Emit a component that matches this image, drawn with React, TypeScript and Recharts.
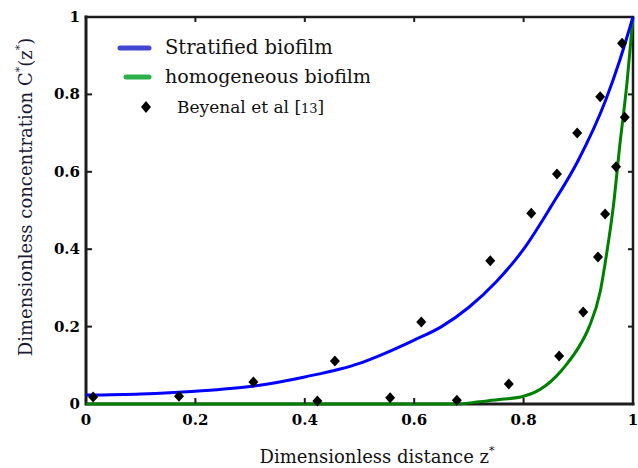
import { ComposedChart, Line, Scatter, XAxis, YAxis } from 'recharts'

// values
const stratifiedZ = [0, 0.1, 0.2, 0.3, 0.4, 0.5, 0.54, 0.6, 0.65, 0.7, 0.75, 0.8, 0.85, 0.9, 0.95, 0.976, 1]
const stratifiedC = [0.023, 0.026, 0.033, 0.045, 0.07, 0.105, 0.127, 0.165, 0.2, 0.25, 0.316, 0.4, 0.51, 0.63, 0.785, 0.889, 1]

const homogeneousZ = [0, 0.68, 0.72, 0.76, 0.8, 0.82, 0.84, 0.86, 0.88, 0.9, 0.92, 0.94, 0.952, 0.964, 0.976, 0.989, 1]
const homogeneousC = [0, 0, 0.006, 0.012, 0.02, 0.03, 0.047, 0.072, 0.105, 0.145, 0.2, 0.29, 0.39, 0.51, 0.67, 0.83, 1]

const beyenalZ = [0.013, 0.17, 0.306, 0.455, 0.613, 0.423, 0.556, 0.678, 0.739, 0.814, 0.861, 0.898, 0.94, 0.98, 0.773, 0.865, 0.909, 0.936, 0.949, 0.969, 0.985]
const beyenalC = [0.018, 0.02, 0.057, 0.111, 0.212, 0.008, 0.016, 0.01, 0.37, 0.493, 0.594, 0.7, 0.794, 0.932, 0.052, 0.124, 0.238, 0.38, 0.491, 0.613, 0.741]

const xTicks = [0, 0.2, 0.4, 0.6, 0.8, 1]
const yTicks = [0, 0.2, 0.4, 0.6, 0.8, 1]

const stratified = stratifiedZ.map((x, i) => ({ x, c: stratifiedC[i] }))
const homogeneous = homogeneousZ.map((x, i) => ({ x, c: homogeneousC[i] }))
const beyenal = beyenalZ.map((x, i) => ({ x, c: beyenalC[i] }))

// box around the plot and inward tick marks, built from the axis domain and ticks
const lo = 0
const hi = 1
const frameLowerLeft = [{ x: lo, c: hi }, { x: lo, c: lo }, { x: hi, c: lo }]
const frameUpperRight = [{ x: lo, c: hi }, { x: hi, c: hi }, { x: hi, c: lo }]
const innerX = xTicks.slice(1, -1)
const innerY = yTicks.slice(1, -1)
const bottomMarks = innerX.map((x) => ({ x, c: lo }))
const topMarks = innerX.map((x) => ({ x, c: hi }))
const leftMarks = innerY.map((c) => ({ x: lo, c }))
const rightMarks = innerY.map((c) => ({ x: hi, c }))

const W = 638
const H = 468
const margin = { top: 17, right: 5, left: 0, bottom: 0 }
const ink = '#1c1c1c'

const serif = '"DejaVu Serif", "Liberation Serif", serif'
const tickFont = { fontFamily: serif, fontSize: 15, fontWeight: 'bold' as const }

const BottomTick = (props: any) => {
  const { x, y, payload } = props
  return (
    <text x={x} y={y + 13} textAnchor="middle" fill="#000" {...tickFont}>{payload.value}</text>
  )
}

const LeftTick = (props: any) => {
  const { x, y, payload } = props
  return (
    <text x={x + 2} y={y + 5} textAnchor="end" fill="#000" {...tickFont}>{payload.value}</text>
  )
}

const MarkUp = (p: any) => <rect x={p.cx - 1} y={p.cy - 6} width={2} height={6} fill={ink} />
const MarkDown = (p: any) => <rect x={p.cx - 1} y={p.cy} width={2} height={5} fill={ink} />
const MarkRight = (p: any) => <rect x={p.cx} y={p.cy - 1} width={6} height={2} fill={ink} />
const MarkLeft = (p: any) => <rect x={p.cx - 5} y={p.cy - 1} width={5} height={2} fill={ink} />

const Diamond = (props: any) => {
  const { cx, cy } = props
  return (
    <polygon
      points={`${cx},${cy - 5.5} ${cx + 5},${cy} ${cx},${cy + 5.5} ${cx - 5},${cy}`}
      fill="#000"
    />
  )
}

function LegendBox() {
  return (
    <svg width={270} height={95} style={{ display: 'block' }}>
      <line x1={20} y1={18} x2={49} y2={18} stroke="#4346d1" strokeWidth={5} strokeLinecap="round" />
      <text x={65} y={24} fontFamily={serif} fontSize={19.5} fill="#111">Stratified biofilm</text>
      <line x1={26} y1={47} x2={49} y2={47} stroke="#2bb04a" strokeWidth={5} strokeLinecap="round" />
      <text x={65} y={53} fontFamily={serif} fontSize={19} fill="#111">homogeneous biofilm</text>
      <polygon points="46,71 51,77 46,83 41,77" fill="#000" />
      <text x={77} y={83} fontFamily={serif} fontSize={17} fill="#111">
        Beyenal et al [<tspan fontSize={13}>13</tspan>]
      </text>
    </svg>
  )
}

function Titles() {
  return (
    <svg width={W} height={H} style={{ display: 'block' }}>
      <text x={377} y={463} textAnchor="middle" fontFamily={serif} fontSize={18} fill="#111">
        Dimensionless distance z<tspan fontSize={11} dy={-9}>*</tspan>
      </text>
      <text
        x={32}
        y={197}
        transform="rotate(-90, 32, 197)"
        textAnchor="middle"
        fontFamily={serif}
        fontSize={18}
        fill="#1a1a33"
      >
        Dimensionless concentration C<tspan fontSize={11} dy={-9}>*</tspan>
        <tspan dy={9}>(z</tspan>
        <tspan fontSize={11} dy={-9}>*</tspan>
        <tspan dy={9}>)</tspan>
      </text>
    </svg>
  )
}

export default function App() {
  return (
    <div style={{ position: 'absolute', left: 0, top: 0, width: W, height: H }}>
      <div style={{ position: 'absolute', left: 0, top: 0, pointerEvents: 'none' }}>
        <Titles />
      </div>
      <div style={{ position: 'absolute', left: 0, top: 0 }}>
        <ComposedChart width={W} height={H} margin={margin}>
          <XAxis
            type="number"
            dataKey="x"
            domain={[lo, hi]}
            ticks={xTicks}
            height={64}
            axisLine={false}
            tickLine={false}
            tick={BottomTick}
          />
          <YAxis
            type="number"
            dataKey="c"
            domain={[lo, hi]}
            ticks={yTicks}
            width={86}
            axisLine={false}
            tickLine={false}
            tick={LeftTick}
          />
          <Line
            data={frameUpperRight}
            dataKey="c"
            type="linear"
            stroke={ink}
            strokeWidth={2.5}
            strokeLinecap="square"
            dot={false}
            isAnimationActive={false}
          />
          <Line
            data={frameLowerLeft}
            dataKey="c"
            type="linear"
            stroke={ink}
            strokeWidth={3}
            strokeLinecap="square"
            dot={false}
            isAnimationActive={false}
          />
          <Scatter data={bottomMarks} dataKey="c" shape={MarkUp} isAnimationActive={false} />
          <Scatter data={topMarks} dataKey="c" shape={MarkDown} isAnimationActive={false} />
          <Scatter data={leftMarks} dataKey="c" shape={MarkRight} isAnimationActive={false} />
          <Scatter data={rightMarks} dataKey="c" shape={MarkLeft} isAnimationActive={false} />
          <Line
            data={homogeneous}
            dataKey="c"
            type="monotone"
            stroke="#008000"
            strokeWidth={3}
            dot={false}
            isAnimationActive={false}
          />
          <Line
            data={stratified}
            dataKey="c"
            type="monotone"
            stroke="#0000ff"
            strokeWidth={3}
            dot={false}
            isAnimationActive={false}
          />
          <Scatter data={beyenal} dataKey="c" shape={Diamond} isAnimationActive={false} />
        </ComposedChart>
      </div>
      <div style={{ position: 'absolute', left: 100, top: 30 }}>
        <LegendBox />
      </div>
    </div>
  )
}
